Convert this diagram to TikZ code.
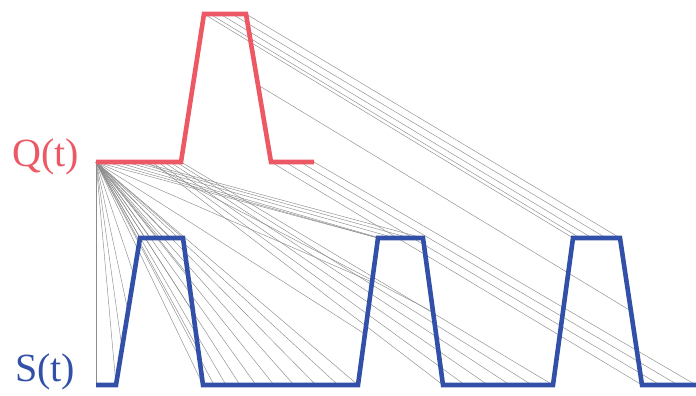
\documentclass[tikz,border=0pt]{standalone}
\usepackage{fontspec}
\setmainfont{Liberation Serif}
\definecolor{qred}{RGB}{236,88,100}
\definecolor{sblue}{RGB}{50,80,168}
\begin{document}
\begin{tikzpicture}[x=1pt,y=-1pt,
  link/.style={draw=black!45,line width=0.45pt},
  curve/.style={line width=4.6pt,line join=miter},
  lbl/.style={font=\fontsize{40}{40}\selectfont,inner sep=0pt}]
\useasboundingbox (0,0) rectangle (696,396);
% warping links (Q point -> S point)
\foreach \qx/\qy/\sx/\sy [count=\k] in {
  96/162/96/385, 96/162/116/385, 96/162/122/348, 96/162/128/311,
  96/162/134/275, 96/162/140/238, 96/162/150/238, 96/162/160/238,
  96/162/170/238, 96/162/183/238, 96/162/188/275, 96/162/193/312,
  96/162/198/349, 96/162/203/385, 96/162/214/385, 96/162/226/385,
  96/162/240/385, 96/162/256/385, 96/162/274/385, 96/162/294/385,
  96/162/316/385, 96/162/338/385, 96/162/358/385, 96/162/365/334,
  96/162/372/282, 96/162/378/238,
  106/162/378/238, 116/162/380/238, 126/162/395/238, 134/162/410/238,
  140/162/423/238, 146/162/433/312, 152/162/443/385, 158/162/465/385,
  164/162/488/385, 170/162/510/385, 176/162/532/385, 181/162/553/385,
  204/14/573/238, 210/14/580/238, 220/14/592/238,
  232/14/606/238, 246/14/620/238, 258/85/631/311, 271/162/642/385,
  285/162/660/385, 300/162/678/385, 314/162/696/385}
{
  \coordinate (q\k) at (\qx,\qy);
  \coordinate (s\k) at (\sx,\sy);
  \draw[link] (q\k) -- (s\k);
}
% Q(t) curve
\draw[curve,qred] (96,162) -- (181,162) -- (204,14) -- (246,14) -- (271,162) -- (314,162);
% S(t) curve
\draw[curve,sblue] (96,385) -- (116,385) -- (140,238) -- (183,238) -- (203,385)
  -- (358,385) -- (378,238) -- (423,238) -- (443,385) -- (553,385)
  -- (573,238) -- (620,238) -- (642,385) -- (696,385);
\node[lbl,text=qred] (qlabel) at (46,157) {Q(t)};
\node[lbl,text=sblue] (slabel) at (45,372) {S(t)};
\end{tikzpicture}
\end{document}
